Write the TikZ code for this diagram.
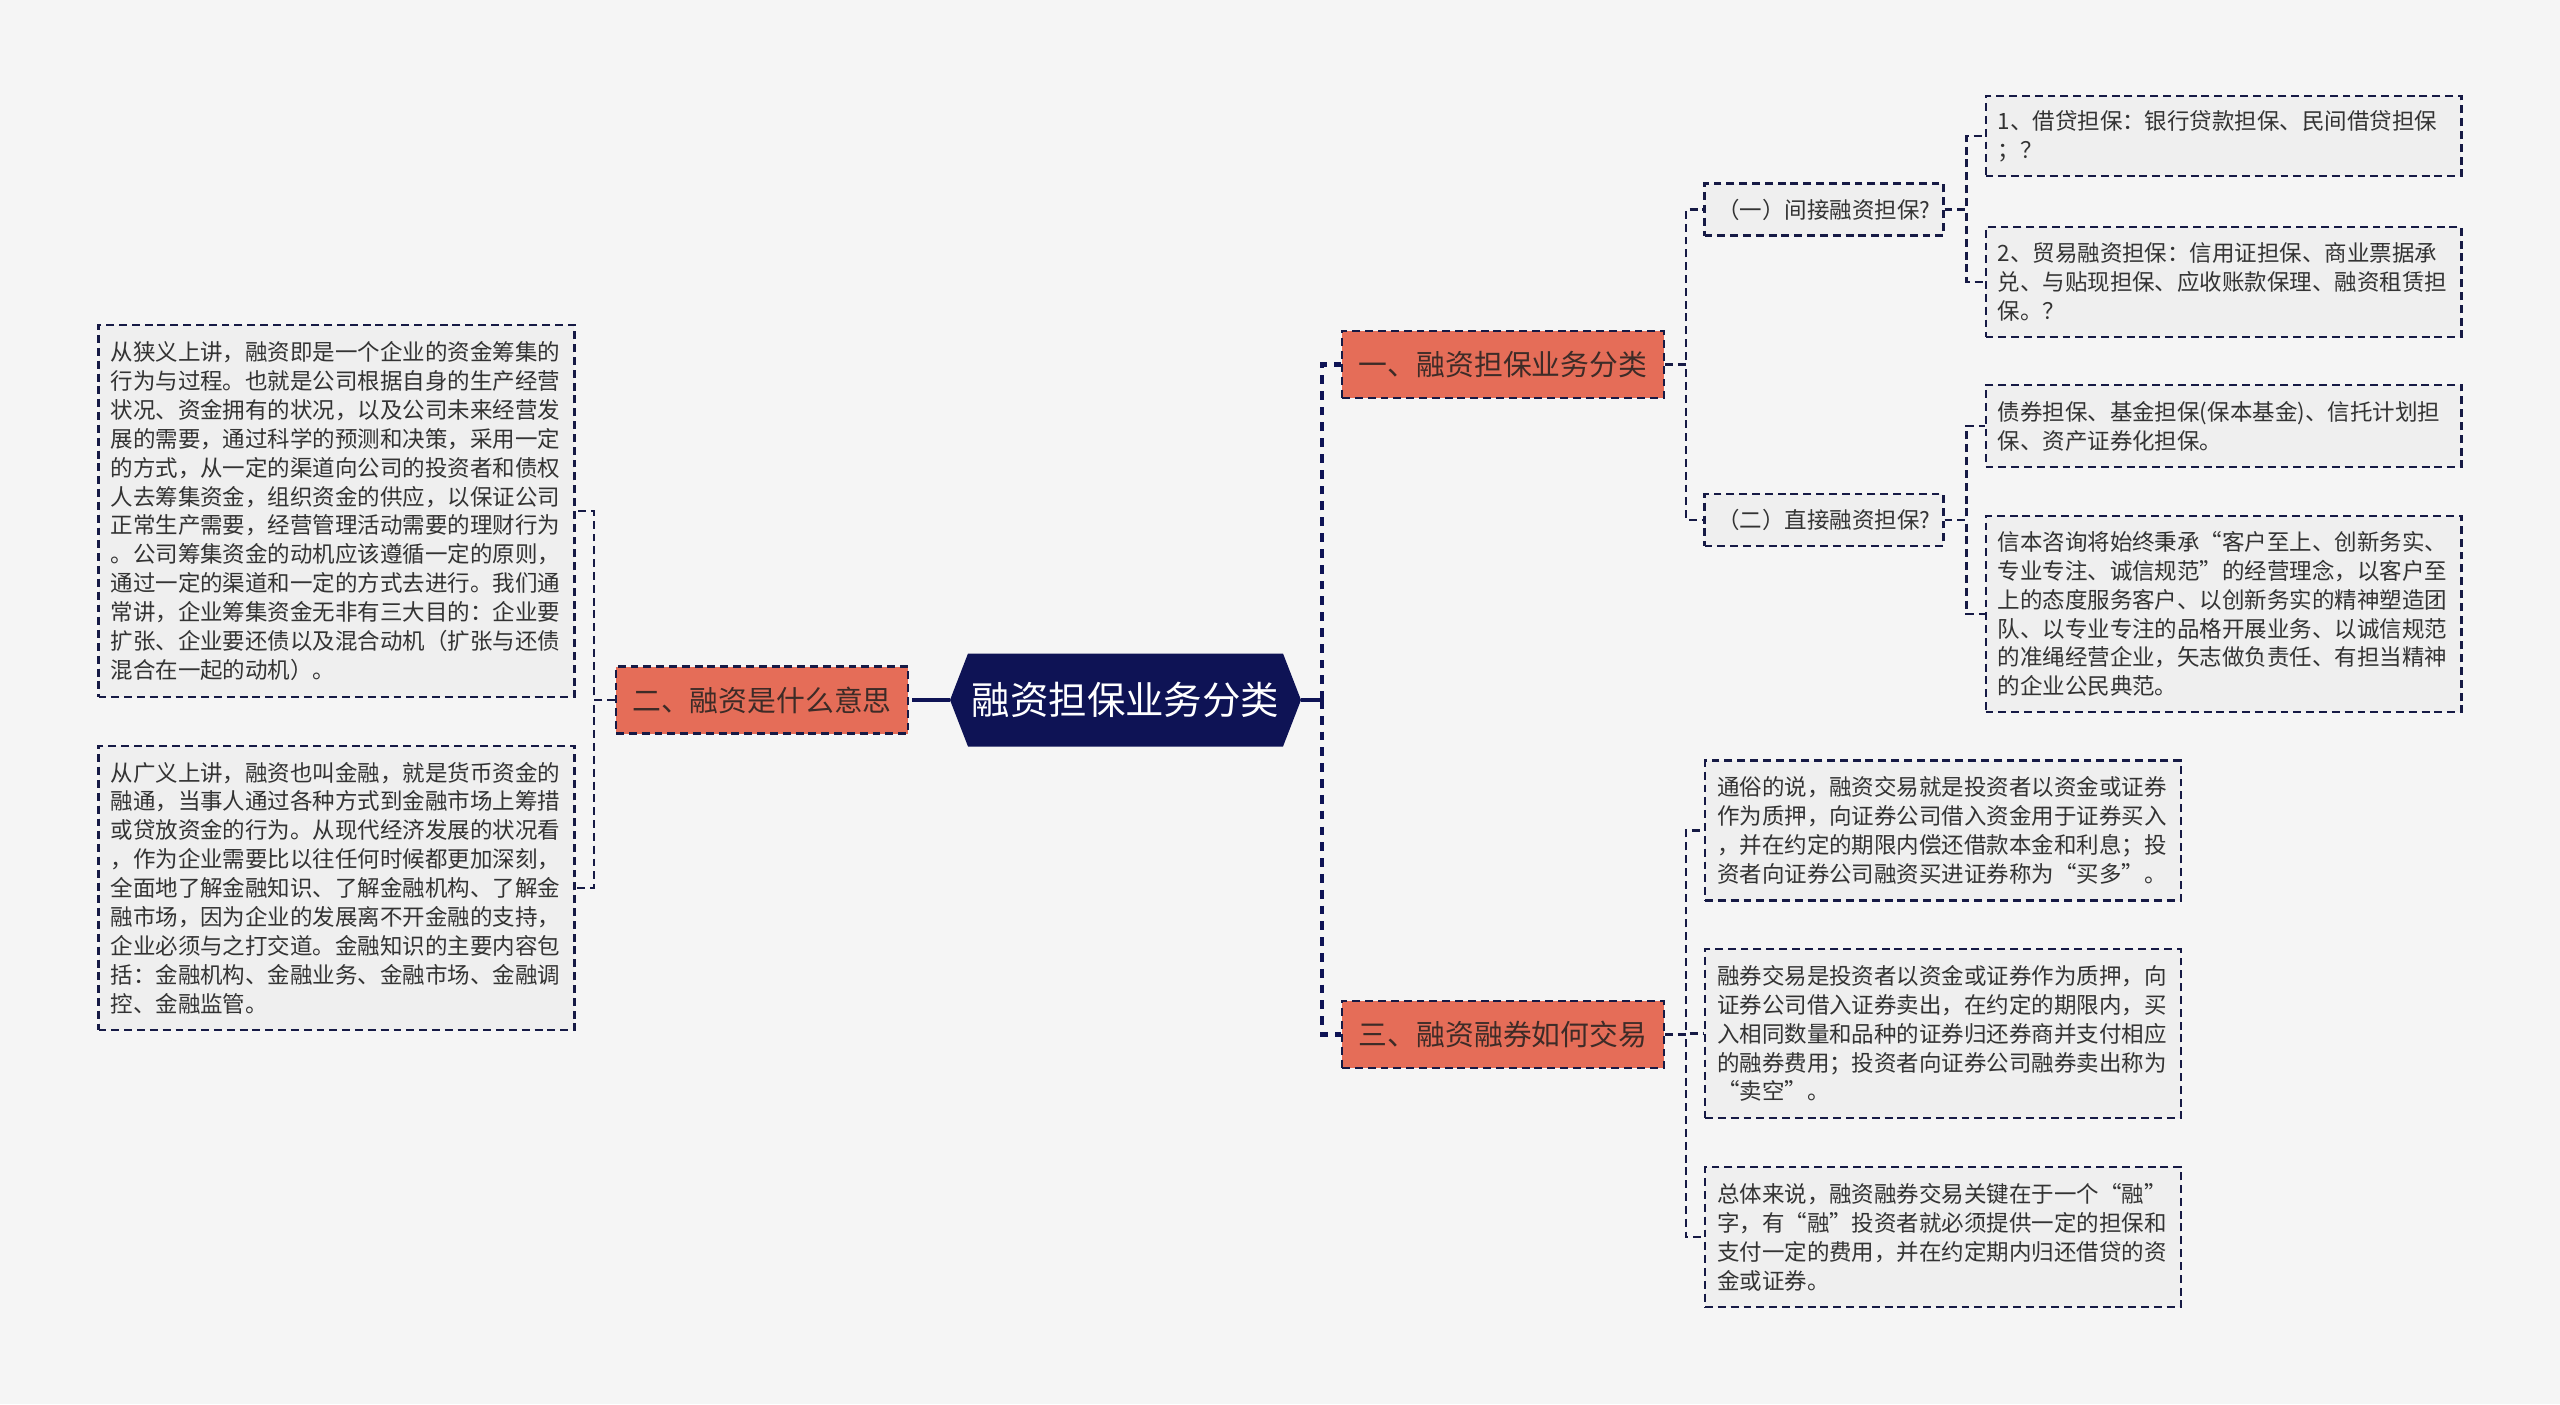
\documentclass[tikz,border=0pt]{standalone}
\usepackage{fontspec}
\setmainfont{Noto Sans CJK SC}
\definecolor{bgcol}{HTML}{F5F5F5}
\definecolor{boxcol}{HTML}{EFEFEF}
\definecolor{navy}{HTML}{0E1355}
\definecolor{edgecol}{HTML}{161A45}
\definecolor{topiccol}{HTML}{E56D58}
\definecolor{topictxt}{HTML}{3D2B27}
\definecolor{txtcol}{HTML}{333333}
\begin{document}
\begin{tikzpicture}[x=0.02cm, y=-0.02cm,
	every node/.style={text=txtcol},
	dashline/.style={draw=edgecol, line width=1.2pt, dash pattern=on 4.5pt off 2.8pt},
	link/.style={dashline},
	trunk/.style={draw=navy, line width=2.3pt, dash pattern=on 5pt off 4pt},
	stem/.style={draw=navy, line width=2.3pt},
	leaf/.style={dashline, fill=boxcol, text width=9.04cm, inner xsep=0.24cm, inner ysep=0pt, align=left, font=\fontsize{12.8pt}{16.45pt}\selectfont},
	sub/.style={dashline, fill=boxcol, minimum width=4.78cm, minimum height=1.04cm, inner sep=0pt, font=\fontsize{12.8pt}{16pt}\selectfont},
	topic/.style={dashline, fill=topiccol, minimum height=1.34cm, inner sep=0pt, text=topictxt, font=\fontsize{16.4pt}{20pt}\selectfont},
	hubnode/.style={minimum width=7.02cm, minimum height=1.86cm, inner sep=0pt, text=white, font=\fontsize{21.9pt}{26pt}\selectfont}]

	\fill[bgcol] (0,0) rectangle (2560,1404);

	% centre
	\fill[navy] (950,700) -- (968,653.5) -- (1283,653.5) -- (1301,700) -- (1283,746.5) -- (968,746.5) -- cycle;
	\node[hubnode] (hub) at (1125.5,700) {融资担保业务分类};

	\node[topic, minimum width=6.44cm] (s1) at (1503,364.5) {一、融资担保业务分类};
	\node[topic, minimum width=5.84cm] (s2) at (762,700) {二、融资是什么意思};
	\node[topic, minimum width=6.44cm] (s3) at (1503,1034.5) {三、融资融券如何交易};

	\node[sub] (p1) at (1824,209.5) {（一）间接融资担保?};
	\node[sub] (p2) at (1824,520) {（二）直接融资担保?};

	\node[leaf, minimum height=1.6cm] (r1) at (2223.5,136) {1、借贷担保：银行贷款担保、民间借贷担保\\；？};
	\node[leaf, minimum height=2.2cm] (r2) at (2223.5,282) {2、贸易融资担保：信用证担保、商业票据承\\兑、与贴现担保、应收账款保理、融资租赁担\\保。？};
	\node[leaf, minimum height=1.64cm] (r3) at (2223.5,426) {债券担保、基金担保(保本基金)、信托计划担\\保、资产证券化担保。};
	\node[leaf, minimum height=3.92cm] (r4) at (2223.5,614) {信本咨询将始终秉承“客户至上、创新务实、\\专业专注、诚信规范”的经营理念，以客户至\\上的态度服务客户、以创新务实的精神塑造团\\队、以专业专注的品格开展业务、以诚信规范\\的准绳经营企业，矢志做负责任、有担当精神\\的企业公民典范。};

	\node[leaf, minimum height=2.8cm] (m1) at (1943,830.5) {通俗的说，融资交易就是投资者以资金或证券\\作为质押，向证券公司借入资金用于证券买入\\，并在约定的期限内偿还借款本金和利息；投\\资者向证券公司融资买进证券称为“买多”。};
	\node[leaf, minimum height=3.38cm] (m2) at (1943,1033.5) {融券交易是投资者以资金或证券作为质押，向\\证券公司借入证券卖出，在约定的期限内，买\\入相同数量和品种的证券归还券商并支付相应\\的融券费用；投资者向证券公司融券卖出称为\\“卖空”。};
	\node[leaf, minimum height=2.8cm] (m3) at (1943,1237) {总体来说，融资融券交易关键在于一个“融”\\字，有“融”投资者就必须提供一定的担保和\\支付一定的费用，并在约定期内归还借贷的资\\金或证券。};

	\node[leaf, minimum height=7.44cm] (l1) at (336.5,511) {从狭义上讲，融资即是一个企业的资金筹集的\\行为与过程。也就是公司根据自身的生产经营\\状况、资金拥有的状况，以及公司未来经营发\\展的需要，通过科学的预测和决策，采用一定\\的方式，从一定的渠道向公司的投资者和债权\\人去筹集资金，组织资金的供应，以保证公司\\正常生产需要，经营管理活动需要的理财行为\\。公司筹集资金的动机应该遵循一定的原则，\\通过一定的渠道和一定的方式去进行。我们通\\常讲，企业筹集资金无非有三大目的：企业要\\扩张、企业要还债以及混合动机（扩张与还债\\混合在一起的动机）。};
	\node[leaf, minimum height=5.68cm] (l2) at (336.5,888) {从广义上讲，融资也叫金融，就是货币资金的\\融通，当事人通过各种方式到金融市场上筹措\\或贷放资金的行为。从现代经济发展的状况看\\，作为企业需要比以往任何时候都更加深刻，\\全面地了解金融知识、了解金融机构、了解金\\融市场，因为企业的发展离不开金融的支持，\\企业必须与之打交道。金融知识的主要内容包\\括：金融机构、金融业务、金融市场、金融调\\控、金融监管。};

	% trunk
	\coordinate (jr) at (1322,700);
	\coordinate (jl) at (921,700);
	\draw[stem] (hub.east) -- (jr);
	\draw[trunk] (jr) |- (s1.west);
	\draw[trunk] (jr) |- (s3.west);
	\draw[stem] (hub.west) -- (jl);
	\draw[trunk] (jl) -- (s2.east);

	% branches
	\draw[link] (s1.east) -- ++(21,0) |- (p1.west);
	\draw[link] (s1.east) -- ++(21,0) |- (p2.west);
	\draw[link] (p1.east) -- ++(22,0) |- (r1.west);
	\draw[link] (p1.east) -- ++(22,0) |- (r2.west);
	\draw[link] (p2.east) -- ++(22,0) |- (r3.west);
	\draw[link] (p2.east) -- ++(22,0) |- (r4.west);
	\draw[link] (s3.east) -- ++(21,0) |- (m1.west);
	\draw[link] (s3.east) -- ++(21,0) |- (m2.west);
	\draw[link] (s3.east) -- ++(21,0) |- (m3.west);
	\draw[link] (s2.west) -- ++(-21,0) |- (l1.east);
	\draw[link] (s2.west) -- ++(-21,0) |- (l2.east);
\end{tikzpicture}
\end{document}
